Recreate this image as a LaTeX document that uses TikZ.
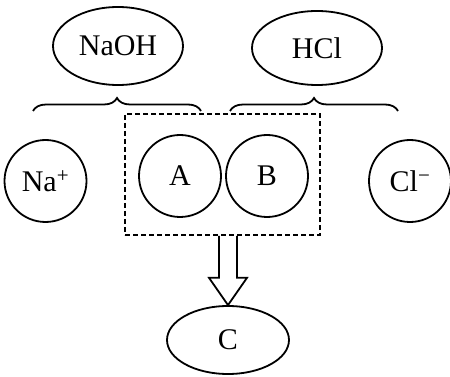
\documentclass[tikz,border=0pt]{standalone}
\usepackage{fontspec}
\setmainfont{Liberation Serif}
\usetikzlibrary{decorations.pathreplacing,calc,shapes.geometric}
\begin{document}
\begin{tikzpicture}[x=1pt,y=-1pt,
  every node/.style={font=\fontsize{30}{34}\selectfont},
  ln/.style={line width=1.8pt},
  oval/.style={ln,draw,ellipse,inner sep=0pt},
  ion/.style={ln,draw,circle,inner sep=0pt,minimum size=82pt},
  brc/.style={ln,decorate,decoration={brace,amplitude=13pt}},
  dbox/.style={draw,line width=1.6pt,dash pattern=on 5pt off 3pt,minimum width=195pt,minimum height=121pt,inner sep=0pt}]
\useasboundingbox (0,0) rectangle (450,377);
\node[oval,minimum width=130pt,minimum height=78pt] (naoh) at (118,46) {NaOH};
\node[oval,minimum width=130pt,minimum height=74pt] (hcl) at (317,48) {HCl};
\coordinate (b1l) at (33,111);
\coordinate (b1r) at (201,111);
\coordinate (b2l) at (230,111);
\coordinate (b2r) at (398,111);
\draw[brc] (b1l) -- (b1r);
\draw[brc] (b2l) -- (b2r);
\node[dbox] (box) at (222.5,174.5) {};
\node[ion] (na) at (45.5,181) {Na\textsuperscript{+}};
\node[ion] (a) at (180,176) {A};
\node[ion] (b) at (267,176) {B};
\node[ion] (cl) at (410,181) {Cl\textsuperscript{−}};
\node[oval,minimum width=122pt,minimum height=68pt] (c) at (228,340) {C};
\coordinate (top) at (box.south -| c.north);
\draw[ln,line join=miter] ($(top)+(-9,0)$) -- ++(0,42) -- ++(-10,0) -- (c.north)
  -- ($(top)+(19,42)$) -- ++(-10,0) -- ($(top)+(9,0)$);
\end{tikzpicture}
\end{document}
